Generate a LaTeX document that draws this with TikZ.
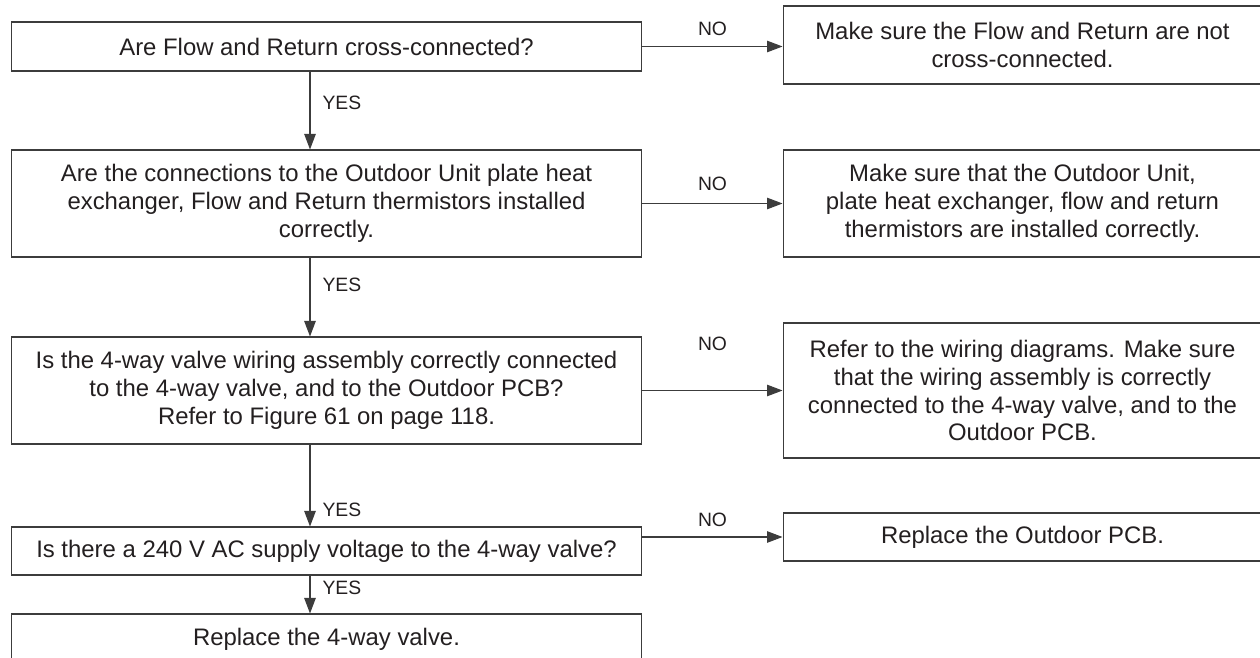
\documentclass[tikz,border=0pt]{standalone}
\usepackage{fontspec}
\setmainfont{Liberation Sans}
\usetikzlibrary{arrows.meta}
\definecolor{LineGrey}{RGB}{60, 60, 60}
\definecolor{InkGrey}{RGB}{35, 31, 32}

\begin{document}
\begin{tikzpicture}[
        x=0.02cm, y=-0.02cm,
        box/.style={draw=LineGrey, line width=0.6pt, align=center, inner sep=0pt, text=InkGrey, font=\fontsize{13.6}{15.9}\selectfont},
        qbox/.style={box, minimum width=12.62cm},
        abox/.style={box, minimum width=9.58cm},
        arr/.style={-{Triangle[length=0.31cm, width=0.23cm]}, line width=0.6pt, LineGrey},
        yes/.style={anchor=west, inner sep=0pt, xshift=0.24cm, text=InkGrey, font=\fontsize{11}{13}\selectfont},
        no/.style={anchor=south, inner sep=0pt, text=InkGrey, font=\fontsize{11}{13}\selectfont}
    ]
        \useasboundingbox (0, 0) rectangle (1260, 658);
        \clip (0, 0) rectangle (1260, 658);

        \node[qbox, minimum height=0.98cm] (q1) at (326.5, 46.5)
            {Are Flow and Return cross-connected?};
        \node[qbox, minimum height=2.14cm] (q2) at (326.5, 203.5)
            {Are the connections to the Outdoor Unit plate heat\\exchanger, Flow and Return thermistors installed\\correctly.};
        \node[qbox, minimum height=2.14cm] (q3) at (326.5, 390.5)
            {Is the 4-way valve wiring assembly correctly connected\\to the 4-way valve, and to the Outdoor PCB?\\Refer to Figure 61 on page 118.};
        \node[qbox, minimum height=0.96cm] (q4) at (326.5, 551)
            {Is there a 240 V AC supply voltage to the 4-way valve?};
        \node[qbox, minimum height=1.0cm] (q5) at (326.5, 639)
            {Replace the 4-way valve.};

        \node[abox, minimum height=1.56cm] (r1) at (1022.5, 45)
            {Make sure the Flow and Return are not\\cross-connected.};
        \node[abox, minimum height=2.14cm] (r2) at (1022.5, 203.5)
            {Make sure that the Outdoor Unit,\\plate heat exchanger, flow and return\\thermistors are installed correctly.};
        \node[abox, minimum height=2.7cm] (r3) at (1022.5, 390.5)
            {Refer to the wiring diagrams. Make sure\\that the wiring assembly is correctly\\connected to the 4-way valve, and to the\\Outdoor PCB.};
        \node[abox, minimum height=0.96cm] (r4) at (1022.5, 537)
            {Replace the Outdoor PCB.};

        \coordinate (spine) at (310, 0);

        \draw[arr] (q1.south -| spine) -- node[yes, pos=0.4] {YES} (q2.north -| spine);
        \draw[arr] (q2.south -| spine) -- node[yes, pos=0.35] {YES} (q3.north -| spine);
        \draw[arr] (q3.south -| spine) -- node[yes, pos=0.8] {YES} (q4.north -| spine);
        \draw[arr] (q4.south -| spine) -- node[yes, pos=0.33] {YES} (q5.north -| spine);

        \draw[arr] (q1) -- node[no, yshift=0.2cm] {NO} (r1.west |- q1);
        \draw[arr] (q2) -- node[no, yshift=0.24cm] {NO} (r2);
        \draw[arr] (q3) -- node[no, yshift=0.78cm] {NO} (r3);
        \draw[arr] (q4.east |- r4) -- node[no, yshift=0.2cm] {NO} (r4);
    \end{tikzpicture}
\end{document}
